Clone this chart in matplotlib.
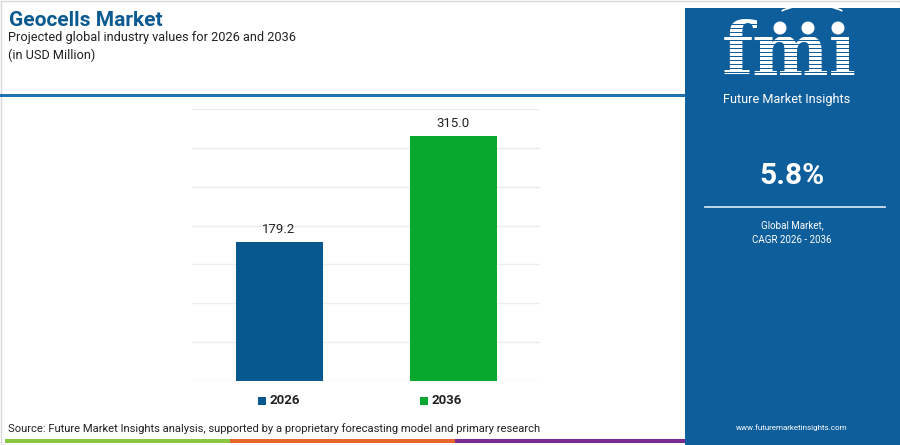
import matplotlib
matplotlib.use("Agg")
import matplotlib.pyplot as plt
from matplotlib.patches import Rectangle, Circle, Arc

years = ["2026", "2036"]
values = [179.2, 315.0]
bar_colors = ["#07588f", "#07a82d"]
cagr = "5.8%"

plt.rcParams["font.family"] = ["Roboto", "DejaVu Sans"]

W, H = 900, 445
fig = plt.figure(figsize=(9, 4.45), dpi=100)
fig.patch.set_facecolor("white")

def px(x, y):
    return x / W, 1 - y / H

deco = fig.add_axes([0, 0, 1, 1], zorder=0)
deco.set_xlim(0, W)
deco.set_ylim(H, 0)
deco.axis("off")

deco.add_patch(Rectangle((0.5, 0.5), 899, 444, fill=False, ec="#d8d8d8", lw=1))
deco.add_patch(Rectangle((0, 93.5), 686, 3, color="#1f72b0", lw=0))
deco.add_patch(Rectangle((5, 439), 225, 4, color="#8cc63f", lw=0))
deco.add_patch(Rectangle((230, 439), 225, 4, color="#e8652c", lw=0))
deco.add_patch(Rectangle((455, 439), 230, 4, color="#7b2b8f", lw=0))
panel = "#0f5e9c"
deco.add_patch(Rectangle((685, 8), 215, 437, color=panel, lw=0))

fig.text(*px(9, 21), "Geocells Market", fontsize=15, fontweight="bold",
         color="#0b5a91", va="center", ha="left")
fig.text(*px(8, 38), "Projected global industry values for 2026 and 2036", fontsize=9.2,
         color="#222222", va="center", ha="left")
fig.text(*px(8, 55), "(in USD Million)", fontsize=9.2, color="#222222", va="center", ha="left")

# logo
deco.text(789, 75, "fmı", fontsize=52, fontweight="bold", family="DejaVu Serif",
          color="white", ha="center", va="baseline", zorder=2)
for yy in range(24, 78, 4):
    deco.add_patch(Rectangle((712, yy), 156, 1.4, color=panel, lw=0, zorder=3))
for cx in (780, 808, 838):
    deco.add_patch(Circle((cx, 28), 6.5, color="white", lw=0, zorder=4))
deco.add_patch(Arc((812, 22), 80, 34, theta1=200, theta2=340, color="white", lw=1.2, zorder=4))
deco.text(787, 99, "Future Market Insights", fontsize=9.2, color="white",
          ha="center", va="center")

fig.text(*px(792, 176), cagr, fontsize=21.5, fontweight="bold", color="white",
         ha="center", va="center")
deco.plot([705, 885], [207, 207], color="#cfe0ef", lw=1.3)
fig.text(*px(792, 225), "Global Market,", fontsize=7, color="white", ha="center", va="center")
fig.text(*px(792, 240), "CAGR 2026 - 2036", fontsize=7, color="white", ha="center", va="center")
fig.text(*px(792, 428), "www.futuremarketinsights.com", fontsize=5.8, color="white",
         ha="center", va="center")

fig.text(*px(8, 429), "Source: Future Market Insights analysis, supported by a proprietary forecasting model and primary research",
         fontsize=8.1, color="#222222", ha="left", va="center")

ax = fig.add_axes([192 / W, 1 - 381 / H, (540 - 192) / W, (381 - 109) / H], zorder=2)
ax.patch.set_alpha(0)
x = list(range(len(years)))
ax.bar(x, values, width=0.5, color=bar_colors, zorder=3)
ax.set_xlim(-0.5, 1.5)
ax.set_ylim(0, 350)
ax.set_yticks(range(0, 351, 50))
ax.yaxis.grid(True, color="#ececec", lw=1, zorder=0)
ax.tick_params(left=False, bottom=False, labelleft=False, labelbottom=False)
for s in ax.spines.values():
    s.set_visible(False)
for xi, v in zip(x, values):
    ax.text(xi, v + 8, f"{v:.1f}", ha="center", va="bottom", fontsize=9.5, color="#222222")

for xi, (yr, c) in enumerate(zip(years, bar_colors)):
    lx = [258, 420][xi]
    deco.add_patch(Rectangle((lx, 397), 8, 8, color=c, lw=0))
    deco.text(lx + 12, 401, yr, fontsize=9.5, fontweight="bold", color="#222222",
              ha="left", va="center")

fig.savefig("out.png", dpi=100, facecolor="white")
